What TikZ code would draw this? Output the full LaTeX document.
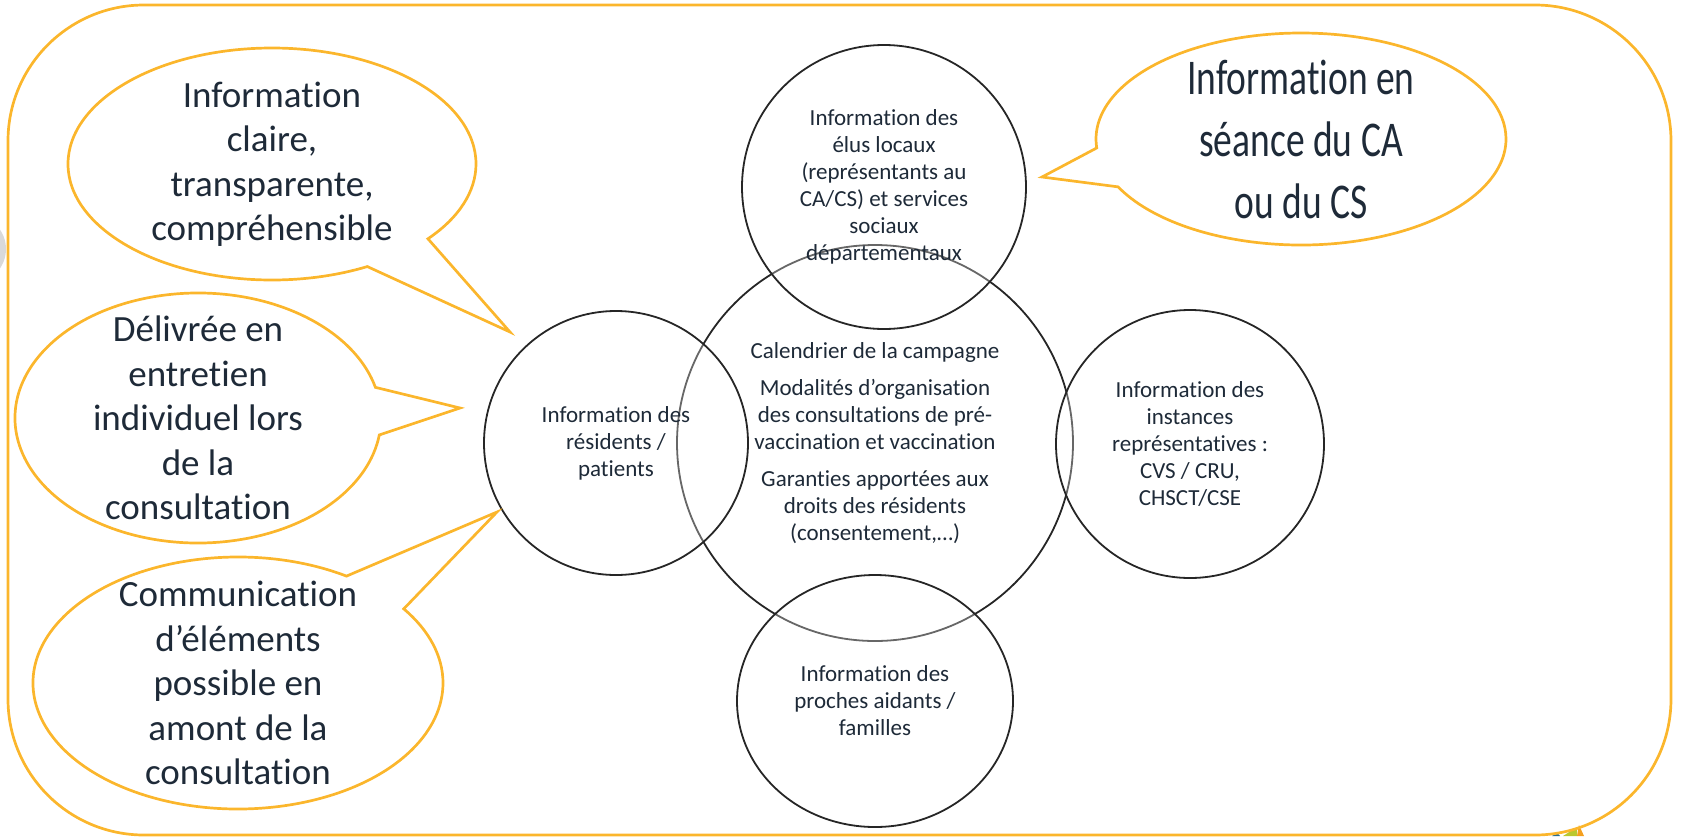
\documentclass[tikz,border=0pt]{standalone}
\usepackage{fontspec}
\setmainfont{Carlito}[RawFeature={-liga}]
\newfontfamily\condfont[FakeStretch=0.75,RawFeature={-liga}]{Carlito}
\usepackage{xcolor}
\usepackage{tikz}
\usetikzlibrary{shapes.geometric,shapes.callouts}

\definecolor{frameorange}{RGB}{251,182,44}
\definecolor{inkblue}{RGB}{30,42,56}
\definecolor{shadegray}{RGB}{217,217,217}
\definecolor{leafgreen}{RGB}{186,200,46}
\definecolor{sunorange}{RGB}{245,160,30}
\definecolor{seablue}{RGB}{40,110,150}

\tikzset{
  topic/.style={circle, draw=black!85, line width=1.8pt, fill=white, fill opacity=0.3, text opacity=1,
    text=inkblue, align=center, inner sep=-40pt, font=\fontsize{23}{27}\selectfont},
  bubble/.style={ellipse callout, draw=frameorange, line width=2.7pt, callout pointer arc=22,
    text=inkblue, align=center, inner sep=-60pt, font=\fontsize{37}{44.5}\selectfont}
}

\begin{document}
\begin{tikzpicture}[x=1pt, y=-1pt]
    \useasboundingbox (0,0) rectangle (1682,836);

    % Frame and slide leftovers
    \fill[shadegray] (-28,249) circle (34pt);
    \fill[seablue] (1552,836) -- (1557,833) -- (1560,836) -- cycle;
    \fill[leafgreen] (1563,836) -- (1577,827) -- (1577,836) -- cycle;
    \fill[sunorange] (1577,836) -- (1579,825) -- (1584,836) -- cycle;
    \draw[frameorange, line width=2.7pt, rounded corners=136pt] (8,5) rectangle (1671,835);

    % Circles
    \node[topic, minimum size=396pt] (camp) at (875,443)
        {Calendrier de la campagne\\[10pt]
         Modalités d’organisation\\des consultations de pré-\\vaccination et vaccination\\[10pt]
         Garanties apportées aux\\droits des résidents\\(consentement,…)};
    \node[topic, minimum size=284pt] (elus) at (884,187)
        {Information des\\élus locaux\\(représentants au\\CA/CS) et services\\sociaux\\départementaux};
    \node[topic, minimum size=264pt] (resid) at (616,443)
        {Information des\\résidents /\\patients};
    \node[topic, minimum size=268pt] (inst) at (1190,444)
        {Information des\\instances\\représentatives :\\CVS / CRU,\\CHSCT/CSE};
    \node[topic, ellipse, minimum width=276pt, minimum height=252pt] (proches) at (875,701)
        {Information des\\proches aidants /\\familles};

    % Callout tips
    \coordinate (tipclaire) at (510,332);
    \coordinate (tipseance) at (1042,177);
    \coordinate (tipentretien) at (460,408);
    \coordinate (tipamont) at (497,512);

    % Callouts
    \node[bubble, minimum width=408pt, minimum height=232pt, callout absolute pointer={(tipclaire)}]
        (claire) at (272,164) {Information\\claire,\\transparente,\\compréhensible};
    \node[bubble, font=\condfont\fontsize{50}{62}\selectfont, minimum width=410pt, minimum height=212pt,
        callout absolute pointer={(tipseance)}]
        (seance) at (1301,139) {Information en\\séance du CA\\ou du CS};
    \node[bubble, minimum width=366pt, minimum height=250pt, callout absolute pointer={(tipentretien)}]
        (entretien) at (198,418) {Délivrée en\\entretien\\individuel lors\\de la\\consultation};
    \node[bubble, minimum width=410pt, minimum height=252pt, callout absolute pointer={(tipamont)}]
        (amont) at (238,683) {Communication\\d’éléments\\possible en\\amont de la\\consultation};
\end{tikzpicture}
\end{document}
